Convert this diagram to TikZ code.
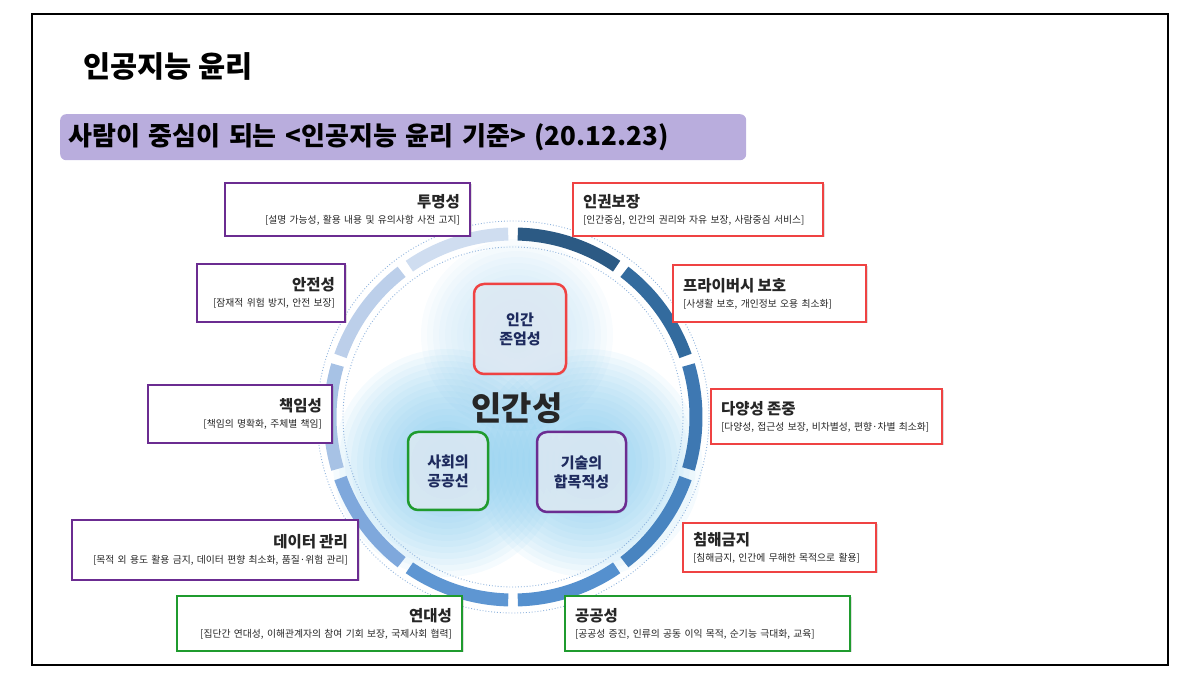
\documentclass[tikz,border=0pt]{standalone}
\usepackage{fontspec}
\setmainfont{Noto Sans CJK KR}
\usepackage{xcolor}
\usepackage{tikz}
\usetikzlibrary{shadows, positioning}

\definecolor{bannerpurple}{HTML}{B9ADDD}
\definecolor{boxpurple}{HTML}{6B2C91}
\definecolor{boxred}{HTML}{EF4343}
\definecolor{boxgreen}{HTML}{1F9B2E}
\definecolor{navytext}{HTML}{1E2B5E}
\definecolor{innerfill}{HTML}{E2EEF8}
\definecolor{ringdot}{HTML}{8FB3DD}
\definecolor{blobtop}{HTML}{C4E3F5}
\definecolor{blobbot}{HTML}{7CC6EC}
\definecolor{ringA}{HTML}{2C5A84}
\definecolor{ringB}{HTML}{336B9E}
\definecolor{ringC}{HTML}{3E78B2}
\definecolor{ringD}{HTML}{4884C0}
\definecolor{ringE}{HTML}{5590CE}
\definecolor{ringF}{HTML}{5E96D2}
\definecolor{ringG}{HTML}{7FA8DC}
\definecolor{ringH}{HTML}{A7C2E5}
\definecolor{ringI}{HTML}{BCCFEA}
\definecolor{ringJ}{HTML}{CFDDF0}

\newcommand{\boxhead}[1]{{\fontsize{15.5}{18}\selectfont\bfseries #1}}
\newcommand{\boxsub}[1]{{\fontsize{9.8}{12}\selectfont #1}}

\tikzset{
  ethicbox/.style={rectangle, draw=#1, line width=2.5pt, fill=white,
                   drop shadow={opacity=0.25, shadow xshift=1.5pt, shadow yshift=-1.5pt},
                   inner xsep=10pt, inner ysep=0pt, text=black!85},
  rbox/.style={ethicbox=#1, align=right},
  lbox/.style={ethicbox=#1, align=left},
  corebox/.style={rectangle, draw=#1, line width=2.5pt, fill=innerfill, fill opacity=0.8,
                  text opacity=1, rounded corners=10pt, align=center, text=navytext,
                  drop shadow={opacity=0.2, shadow xshift=1pt, shadow yshift=-1.5pt},
                  font=\fontsize{15}{19}\selectfont\bfseries},
}

\begin{document}
\begin{tikzpicture}[x=1pt, y=1pt]
  \useasboundingbox (0,0) rectangle (1200,675);

  % Frame and headings
  \draw [line width=2pt] (32,661) rectangle (1168,10);
  \node [anchor=west, inner sep=0pt, font=\fontsize{29.5}{34}\selectfont\bfseries] (title)
    at (83,609) {인공지능 윤리};
  \node [anchor=north west, fill=bannerpurple, rounded corners=6pt, text width=670pt,
         inner xsep=8pt, minimum height=46pt, align=left,
         font=\fontsize{26}{30}\selectfont\bfseries] (banner)
    at (60,561) {사람이 중심이 되는 <인공지능 윤리 기준> (20.12.23)};

  % Blobs (soft layered glow)
  \coordinate (blobT) at (517,340);
  \coordinate (blobL) at (447,212);
  \coordinate (blobR) at (588,212);
  \foreach \r in {6,12,...,96}
    \fill [blobtop, fill opacity=0.1] (blobT) circle[radius=\r];
  \foreach \r in {6,12,...,114} {
    \fill [blobbot, fill opacity=0.075] (blobL) circle[radius=\r];
    \fill [blobbot, fill opacity=0.075] (blobR) circle[radius=\r];
  }

  % Ring
  \coordinate (ctr) at (513,258);
  \draw [ringdot, dotted, line width=0.9pt] (ctr) circle[radius=196];
  \draw [ringdot, dotted, line width=0.9pt] (ctr) circle[radius=170];
  \foreach \a/\c in {90/ringA, 54/ringB, 18/ringC, -18/ringD, -54/ringE,
                     -90/ringF, -126/ringG, -162/ringH, -198/ringI, -234/ringJ}
    \draw [\c, line width=13pt] (ctr) ++(\a-1.5:183)
      arc[start angle=\a-1.5, end angle=\a-34.5, radius=183];

  % Core values
  \node [corebox=boxred, minimum width=92pt, minimum height=90pt] (dignity)
    at (520,346) {인간\\존엄성};
  \node [corebox=boxgreen, minimum width=80pt, minimum height=78pt] (common)
    at (448,204) {사회의\\공공선};
  \node [corebox=boxpurple, minimum width=89pt, minimum height=80pt] (purpose)
    at (581.5,203) {기술의\\합목적성};
  \node [font=\fontsize{33}{38}\selectfont\bfseries, text=black!85] (core)
    at (517,267) {인간성};

  % Requirements, left side
  \node [rbox=boxpurple, text width=225pt, minimum height=53pt] (transp)
    at (347.5,465.5) {\boxhead{투명성}\\[4pt]\boxsub{[설명 가능성, 활용 내용 및 유의사항 사전 고지]}};
  \node [rbox=boxpurple, text width=128pt, minimum height=58pt] (safety)
    at (271,382) {\boxhead{안전성}\\[4pt]\boxsub{[잠재적 위험 방지, 안전 보장]}};
  \node [rbox=boxpurple, text width=164pt, minimum height=58pt] (resp)
    at (240,261) {\boxhead{책임성}\\[4pt]\boxsub{[책임의 명확화, 주체별 책임]}};
  \node [rbox=boxpurple, text width=266pt, minimum height=60pt] (datamgmt)
    at (215,125) {\boxhead{데이터 관리}\\[4pt]\boxsub{[목적 외 용도 활용 금지, 데이터 편향 최소화, 품질·위험 관리]}};
  \node [rbox=boxgreen, text width=265pt, minimum height=55pt] (solid)
    at (319.5,51.5) {\boxhead{연대성}\\[4pt]\boxsub{[집단간 연대성, 이해관계자의 참여 기회 보장, 국제사회 협력]}};

  % Requirements, right side
  \node [lbox=boxred, text width=230pt, minimum height=53pt] (rights)
    at (698,465.5) {\boxhead{인권보장}\\[4pt]\boxsub{[인간중심, 인간의 권리와 자유 보장, 사람중심 서비스]}};
  \node [lbox=boxred, text width=173pt, minimum height=57pt] (privacy)
    at (769.5,381.5) {\boxhead{프라이버시 보호}\\[4pt]\boxsub{[사생활 보호, 개인정보 오용 최소화]}};
  \node [lbox=boxred, text width=211pt, minimum height=55pt] (diversity)
    at (826.5,258.5) {\boxhead{다양성 존중}\\[4pt]\boxsub{[다양성, 접근성 보장, 비차별성, 편향·차별 최소화]}};
  \node [lbox=boxred, text width=173pt, minimum height=49pt] (noharm)
    at (779.5,127.5) {\boxhead{침해금지}\\[4pt]\boxsub{[침해금지, 인간에 무해한 목적으로 활용]}};
  \node [lbox=boxgreen, text width=265pt, minimum height=55pt] (public)
    at (707.5,51.5) {\boxhead{공공성}\\[4pt]\boxsub{[공공성 증진, 인류의 공동 이익 목적, 순기능 극대화, 교육]}};
\end{tikzpicture}
\end{document}
